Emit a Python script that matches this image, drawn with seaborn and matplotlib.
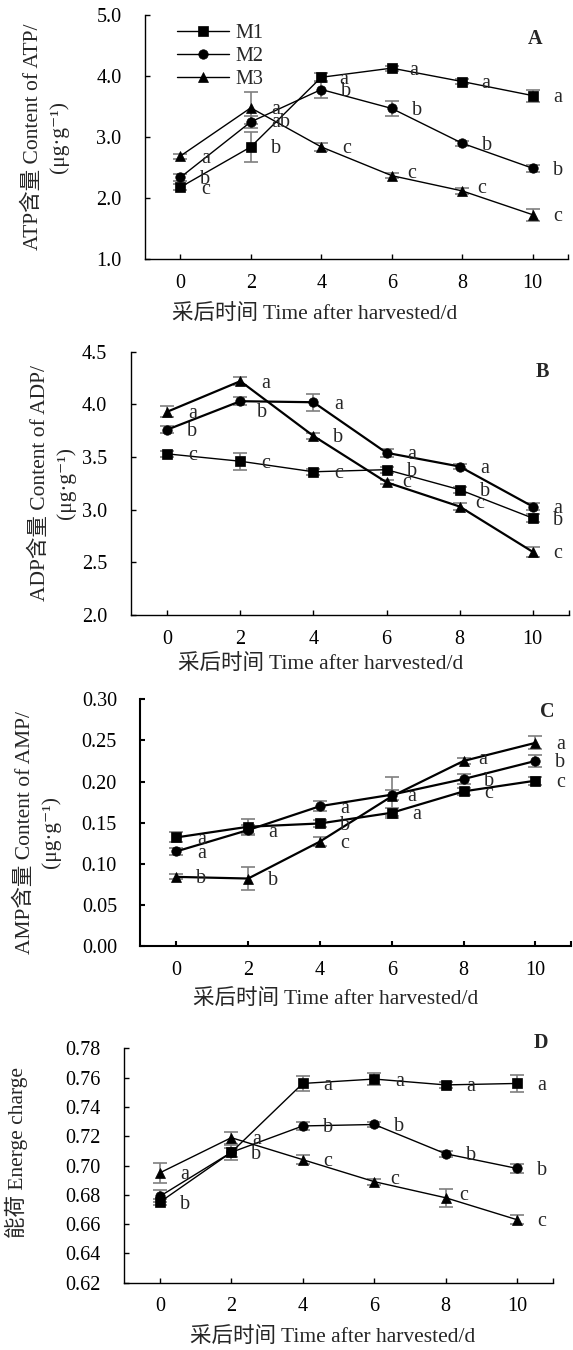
"""
Postharvest energy status of three treatments (M1-M3): ATP, ADP, AMP and energy charge
over 10 days of storage, four stacked panels with significance letters.
"""
import matplotlib

matplotlib.use("Agg")
import matplotlib.pyplot as plt
import seaborn as sns

DAYS = [0, 2, 4, 6, 8, 10]
GROUPS = ["M1", "M2", "M3"]
MARKERS = {"M1": "s", "M2": "o", "M3": "^"}
MSIZE = {"M1": 6.8, "M2": 6.8, "M3": 7.4}

# ── A: ATP ───────────────────────────────────────────────────────────────
ATP_M1 = [2.18, 2.84, 3.98, 4.13, 3.91, 3.68]
ATP_M2 = [2.34, 3.25, 3.78, 3.47, 2.90, 2.49]
ATP_M3 = [2.69, 3.48, 2.84, 2.37, 2.12, 1.73]
ATP_M1_SD = [0.05, 0.25, 0.07, 0.04, 0.04, 0.10]
ATP_M2_SD = [0.05, 0.10, 0.14, 0.12, 0.04, 0.06]
ATP_M3_SD = [0.04, 0.26, 0.07, 0.04, 0.05, 0.10]
ATP_M1_SIG = ["c", "b", "a", "a", "a", "a"]
ATP_M2_SIG = ["b", "ab", "b", "b", "b", "b"]
ATP_M3_SIG = ["a", "a", "c", "c", "c", "c"]

# ── B: ADP ───────────────────────────────────────────────────────────────
ADP_M1 = [3.53, 3.46, 3.36, 3.38, 3.19, 2.92]
ADP_M2 = [3.76, 4.03, 4.02, 3.54, 3.41, 3.03]
ADP_M3 = [3.93, 4.22, 3.70, 3.26, 3.03, 2.60]
ADP_M1_SD = [0.03, 0.08, 0.03, 0.03, 0.03, 0.04]
ADP_M2_SD = [0.03, 0.04, 0.08, 0.04, 0.02, 0.03]
ADP_M3_SD = [0.05, 0.04, 0.03, 0.02, 0.03, 0.05]
ADP_M1_SIG = ["c", "c", "c", "b", "b", "b"]
ADP_M2_SIG = ["b", "b", "a", "a", "a", "a"]
ADP_M3_SIG = ["a", "a", "b", "c", "c", "c"]

# ── C: AMP ───────────────────────────────────────────────────────────────
AMP_M1 = [0.132, 0.145, 0.149, 0.162, 0.188, 0.201]
AMP_M2 = [0.115, 0.141, 0.170, 0.184, 0.203, 0.225]
AMP_M3 = [0.084, 0.082, 0.127, 0.182, 0.225, 0.247]
AMP_M1_SD = [0.006, 0.009, 0.004, 0.006, 0.004, 0.005]
AMP_M2_SD = [0.004, 0.006, 0.006, 0.006, 0.006, 0.007]
AMP_M3_SD = [0.003, 0.014, 0.005, 0.024, 0.004, 0.008]
AMP_M1_SIG = ["a", None, "b", "a", "c", "c"]
AMP_M2_SIG = ["a", "a", "a", "a", "b", "b"]
AMP_M3_SIG = ["b", "b", "c", None, "a", "a"]

# ── D: energy charge ─────────────────────────────────────────────────────
EC_M1 = [0.675, 0.709, 0.756, 0.759, 0.755, 0.756]
EC_M2 = [0.679, 0.709, 0.727, 0.728, 0.708, 0.698]
EC_M3 = [0.695, 0.719, 0.704, 0.689, 0.678, 0.663]
EC_M1_SD = [0.002, 0.005, 0.005, 0.004, 0.002, 0.006]
EC_M2_SD = [0.004, 0.003, 0.003, 0.002, 0.002, 0.003]
EC_M3_SD = [0.007, 0.004, 0.003, 0.002, 0.006, 0.003]
EC_M1_SIG = ["b", None, "a", "a", "a", "a"]
EC_M2_SIG = [None, "b", "b", "b", "b", "b"]
EC_M3_SIG = ["a", "a", "c", "c", "c", "c"]

XLABEL = "采后时间 Time after harvested/d"

PANELS = [
    dict(tag="A", rect=[0.2531, 0.8079, 0.7382, 0.1810],
         series=[ATP_M1, ATP_M2, ATP_M3], sd=[ATP_M1_SD, ATP_M2_SD, ATP_M3_SD],
         sig=[ATP_M1_SIG, ATP_M2_SIG, ATP_M3_SIG],
         ylim=(1.0, 5.0), yticks=[1.0, 2.0, 3.0, 4.0, 5.0], fmt="{:.1f}",
         ylabel="ATP含量 Content of ATP/\n(μg·g⁻¹)", ylab_xy=(-0.235, 0.5),
         xlab_xy=(0.402, -0.228), tag_xy=(0.921, 0.90), lw=[1.0, 1.0, 1.0], spine=1.0,
         nudge={("M1", 2): (22, 2), ("M1", 3): (22, 2), ("M1", 4): (23, 2),
                ("M2", 1): (30, 1), ("M3", 3): (20, -2), ("M3", 4): (19, -2)}),
    dict(tag="B", rect=[0.2281, 0.5444, 0.7654, 0.1951],
         series=[ADP_M1, ADP_M2, ADP_M3], sd=[ADP_M1_SD, ADP_M2_SD, ADP_M3_SD],
         sig=[ADP_M1_SIG, ADP_M2_SIG, ADP_M3_SIG],
         ylim=(2.0, 4.5), yticks=[2.0, 2.5, 3.0, 3.5, 4.0, 4.5], fmt="{:.1f}",
         ylabel="ADP含量 Content of ADP/\n(μg·g⁻¹)", ylab_xy=(-0.177, 0.5),
         xlab_xy=(0.432, -0.19), tag_xy=(0.938, 0.923), lw=[1.0, 1.6, 1.6], spine=1.0,
         nudge={("M2", 1): (22, 11), ("M3", 3): (20, 0), ("M3", 4): (20, -3)}),
    dict(tag="C", rect=[0.2452, 0.2993, 0.7517, 0.1827],
         series=[AMP_M1, AMP_M2, AMP_M3], sd=[AMP_M1_SD, AMP_M2_SD, AMP_M3_SD],
         sig=[AMP_M1_SIG, AMP_M2_SIG, AMP_M3_SIG],
         ylim=(0.0, 0.30), yticks=[0.0, 0.05, 0.10, 0.15, 0.20, 0.25, 0.30], fmt="{:.2f}",
         ylabel="AMP含量 Content of AMP/\n(μg·g⁻¹)", ylab_xy=(-0.239, 0.46),
         xlab_xy=(0.452, -0.219), tag_xy=(0.945, 0.95), lw=[1.6, 1.6, 1.6], spine=1.5,
         nudge={("M2", 3): (20, 2), ("M3", 4): (19, -1)}),
    dict(tag="D", rect=[0.2166, 0.0498, 0.7483, 0.1737],
         series=[EC_M1, EC_M2, EC_M3], sd=[EC_M1_SD, EC_M2_SD, EC_M3_SD],
         sig=[EC_M1_SIG, EC_M2_SIG, EC_M3_SIG],
         ylim=(0.62, 0.78), yticks=[0.62, 0.64, 0.66, 0.68, 0.70, 0.72, 0.74, 0.76, 0.78],
         fmt="{:.2f}",
         ylabel="能荷 Energe charge", ylab_xy=(-0.251, 0.555),
         xlab_xy=(0.487, -0.236), tag_xy=(0.973, 1.024), lw=[1.0, 1.0, 1.0], spine=1.0,
         nudge={("M3", 3): (20, -2), ("M3", 4): (18, -2)}),
]

sns.set_theme(style="ticks")
plt.rcParams["font.family"] = ["Liberation Serif", "Noto Sans CJK SC", "DejaVu Sans"]
plt.rcParams["axes.unicode_minus"] = False

FS = 14.5
PX = 0.72  # pixels → points at dpi 100

fig = plt.figure(figsize=(5.73, 13.5), dpi=100)

for p in PANELS:
    ax = fig.add_axes(p["rect"])
    for gi, g in enumerate(GROUPS):
        ax.errorbar(DAYS, p["series"][gi], yerr=p["sd"][gi], fmt="none", ecolor="#7f7f7f",
                    elinewidth=1.2, capsize=5, capthick=1.2, zorder=1)
        sns.lineplot(x=DAYS, y=p["series"][gi], color="black", marker=MARKERS[g],
                     markersize=MSIZE[g], markeredgecolor="black", markeredgewidth=0.5,
                     linewidth=p["lw"][gi], label=g, ax=ax, zorder=2)
        for i, s in enumerate(p["sig"][gi]):
            if s is None:
                continue
            dx, dy = p["nudge"].get((g, i), (25, 2))
            ax.annotate(s, (DAYS[i], p["series"][gi][i]), xytext=(dx * PX, -dy * PX),
                        textcoords="offset points", ha="center", va="center", fontsize=FS)

    if p["tag"] == "A":
        handles, labels = ax.get_legend_handles_labels()
        ax.legend(handles, labels, loc="upper left", bbox_to_anchor=(0.075, 0.965),
                  frameon=False, handlelength=2.6, handletextpad=0.3, labelspacing=0.2,
                  borderpad=0, borderaxespad=0, fontsize=FS)
    elif ax.get_legend() is not None:
        ax.get_legend().remove()

    ax.set_xlim(-1, 11)
    ax.set_ylim(*p["ylim"])
    ax.set_xticks(DAYS)
    ax.set_xticks([11], minor=True)
    ax.set_yticks(p["yticks"])
    ax.set_yticklabels([p["fmt"].format(v) for v in p["yticks"]])
    ax.tick_params(axis="both", which="both", direction="in", length=3.5,
                   width=p["spine"], colors="black", labelsize=FS)
    ax.tick_params(axis="x", pad=10.5)
    ax.tick_params(axis="y", pad=17)
    sns.despine(ax=ax)
    for side in ("left", "bottom"):
        ax.spines[side].set_linewidth(p["spine"])
        ax.spines[side].set_color("black")

    ax.set_xlabel(XLABEL, fontsize=15.5, va="center")
    ax.xaxis.set_label_coords(*p["xlab_xy"])
    ax.set_ylabel(p["ylabel"], fontsize=15.5, linespacing=1.4, va="center")
    ax.yaxis.set_label_coords(*p["ylab_xy"])
    ax.text(*p["tag_xy"], p["tag"], transform=ax.transAxes, fontsize=FS,
            fontweight="bold", ha="center", va="center")

fig.savefig("out.png", dpi=100)
